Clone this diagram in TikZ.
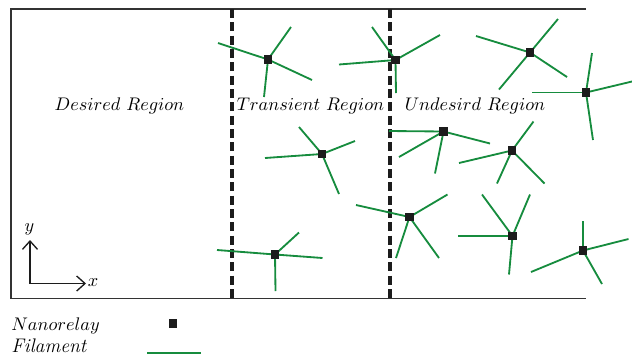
\documentclass[tikz,border=0pt]{standalone}
\usetikzlibrary{arrows.meta}
\definecolor{filgreen}{RGB}{22,140,62}
\definecolor{relaydark}{RGB}{28,28,28}
\begin{document}
\begin{tikzpicture}[x=0.6pt,y=-0.6pt,
  frame/.style={draw=relaydark!90,line width=1.1pt},
  border/.style={draw=relaydark,line width=2.4pt,dash pattern=on 5.4pt off 2.6pt},
  fil/.style={draw=filgreen,line width=1.1pt},
  relay/.style={fill=relaydark,inner sep=0pt,minimum size=5.2pt},
  lbl/.style={font=\fontsize{10.8}{13}\selectfont,inner sep=0pt},
  axis/.style={draw=relaydark,line width=0.8pt,-{Straight Barb[length=5pt,width=9pt]}}]
\useasboundingbox (0,0) rectangle (632,355);

% enclosure, open on the right
\draw[frame] (586,9) -- (11,9) -- (11,298.5) -- (586,298.5);

% region borders
\draw[border] (232,9) -- (232,298);
\draw[border] (390,9) -- (390,298);

% region labels
\node[lbl] (desired) at (119.5,106) {$Desired\ Region$};
\node[lbl] (transient) at (310.5,106) {$Transient\ Region$};
\node[lbl] (undesired) at (475,106) {$Undesird\ Region$};

% nanorelay positions
\coordinate (p1) at (268,59.5);
\coordinate (p2) at (395.5,60);
\coordinate (p3) at (530,52.5);
\coordinate (p4) at (586,92.5);
\coordinate (p5) at (322,154);
\coordinate (p6) at (443.5,131.5);
\coordinate (p7) at (512,150.5);
\coordinate (p8) at (409.5,217);
\coordinate (p9) at (275,254.5);
\coordinate (p10) at (512.5,236);
\coordinate (p11) at (583,250.5);

% filaments
\foreach \p/\ends in {
  p1/{(218,43),(291,27),(312,80),(264,97)},
  p2/{(339,64.5),(372,27),(396,93),(440,35)},
  p3/{(476,36),(558,19),(567,77),(499,89.5)},
  p4/{(532,92.5),(592,53),(632,81.5),(593,140)},
  p5/{(265,158),(299,127),(355,141),(339,194)},
  p6/{(389,131),(490,143.5),(435,173.5),(399,157)},
  p7/{(533.5,121.5),(459,163),(497,183.5),(544.5,183.5)},
  p8/{(356,205),(447.5,194.5),(439,258),(396,258)},
  p9/{(217,250),(299,232.5),(322.5,258),(275.5,291)},
  p10/{(458,236),(482,194.5),(530,194.5),(509,274.5)},
  p11/{(583,221),(628.5,239),(531,272),(602,284)}}
  \foreach \e in \ends \draw[fil] (\p) -- \e;

% nanorelays
\foreach \i in {1,...,11} \node[relay] (r\i) at (p\i) {};

% axes
\coordinate (o) at (30,283.5);
\coordinate (ytip) at (30,240);
\coordinate (xtip) at (86,283.5);
\draw[axis] (o) -- (ytip);
\draw[axis] (o) -- (xtip);
\node[lbl] (ylab) at (29.5,229) {$y$};
\node[lbl] (xlab) at (93,283) {$x$};

% legend
\node[lbl,anchor=west] (lnano) at (11,326) {$Nanorelay$};
\node[relay] (lrelay) at (173,323.5) {};
\node[anchor=west,inner sep=0pt,font=\fontsize{11.8}{13}\selectfont] (lfil) at (11,345.5) {\itshape Filament};
\coordinate (fa) at (147,353);
\coordinate (fb) at (201,353);
\draw[fil] (fa) -- (fb);
\end{tikzpicture}
\end{document}
